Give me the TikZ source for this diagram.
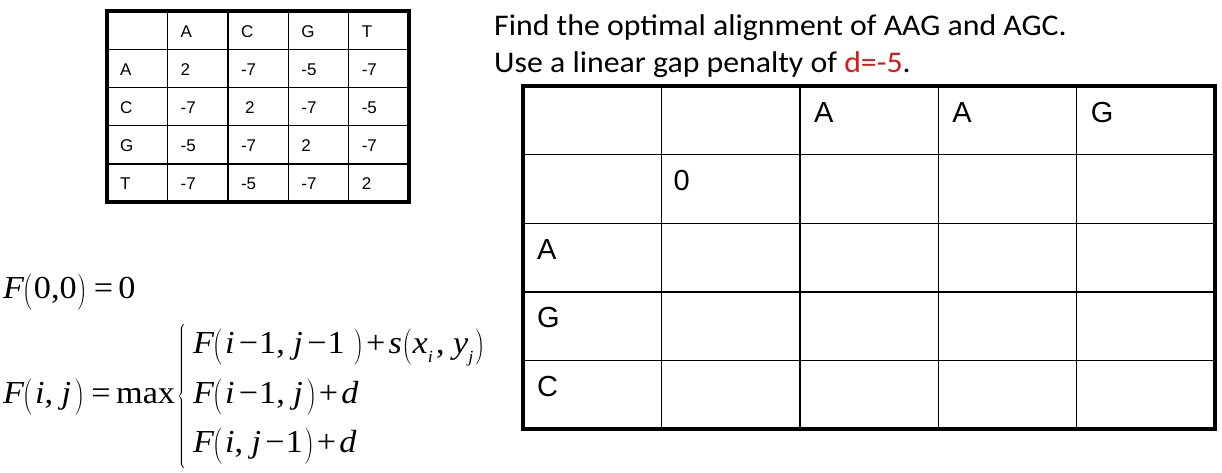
\documentclass[tikz,border=0pt]{standalone}
\usepackage{fontspec}
\setmainfont{Liberation Sans}
\newfontfamily\calib{Carlito}
\newfontfamily\tnr{Liberation Serif}
\definecolor{pptred}{RGB}{218,24,24}
\newcommand\LP{\ensuremath{\left(\vcenter{\hbox{\rule{0pt}{35pt}}}\right.}}
\newcommand\RP{\ensuremath{\left)\vcenter{\hbox{\rule{0pt}{35pt}}}\right.}}
\newcommand\iv[1]{\textit{#1}}
\newcommand\msub[1]{\raisebox{-0.3em}{\fontsize{17}{20}\selectfont\itshape #1}}
\newcommand\mminus{\kern4pt−\kern1pt}
\newcommand\mplus{\kern1pt+\kern3pt}
\newcommand\meq{\kern5pt=\kern5pt}
\newcommand\lead{\kern4pt}
\newcommand\sx[1]{\scalebox{1.07}[1]{#1}}
\tikzset{
  smallcell/.style={anchor=base west, inner sep=0pt, font=\fontsize{17}{20}\selectfont},
  bigcell/.style={anchor=base west, inner sep=0pt, font=\fontsize{29}{34}\selectfont},
  titletext/.style={anchor=base west, inner sep=0pt, font=\calib\fontsize{30}{36}\selectfont},
  formula/.style={anchor=base west, inner sep=0pt, font=\tnr\fontsize{32}{38}\selectfont},
  innerline/.style={line width=1.4pt, black},
  outerline/.style={line width=3.2pt, black},
}
\begin{document}
\begin{tikzpicture}[x=1pt,y=-1pt]
\useasboundingbox (0,0) rectangle (1222,472);
\fill[white] (0,0) rectangle (1222,472);

% ---------- small scoring table ----------
\def\tx{107}\def\tw{60.4}\def\ty{11}\def\th{38.2}
\foreach \i in {1,...,4}{
  \draw[innerline] (\tx+\i*\tw,\ty) -- (\tx+\i*\tw,\ty+5*\th);
  \draw[innerline] (\tx,\ty+\i*\th) -- (\tx+5*\tw,\ty+\i*\th);
}
\draw[outerline] (\tx,\ty) rectangle (\tx+5*\tw,\ty+5*\th);
\foreach \row [count=\r from 0] in {{,A,C,G,T},{A,2,-7,-5,-7},{C,-7,\lead 2,-7,-5},{G,-5,-7,2,-7},{T,-7,-5,-7,2}}{
  \foreach \cell [count=\c from 0] in \row {
    \node[smallcell] (s-\r-\c) at (\tx+\c*\tw+13,\ty+\r*\th+26) {\cell};
  }
}

% ---------- title ----------
\node[titletext] (t1) at (494,35.5) {\scalebox{1.06}[1]{Find the optimal alignment of AAG and AGC.}};
\node[titletext] (t2) at (494,72) {\scalebox{1.06}[1]{Use a linear gap penalty of \textcolor{pptred}{d=-5}.}};

% ---------- DP table ----------
\def\bx{523}\def\bw{138.4}\def\by{86}\def\bh{68.6}
\foreach \i in {1,...,4}{
  \draw[innerline] (\bx+\i*\bw,\by) -- (\bx+\i*\bw,\by+5*\bh);
  \draw[innerline] (\bx,\by+\i*\bh) -- (\bx+5*\bw,\by+\i*\bh);
}
\draw[outerline] (\bx,\by) rectangle (\bx+5*\bw,\by+5*\bh);
\node[bigcell] (b-0-2) at (\bx+2*\bw+14,\by+36) {A};
\node[bigcell] (b-0-3) at (\bx+3*\bw+14,\by+36) {A};
\node[bigcell] (b-0-4) at (\bx+4*\bw+14,\by+36) {G};
\node[bigcell] (b-1-1) at (\bx+1*\bw+12,\by+1*\bh+36) {0};
\node[bigcell] (b-2-0) at (\bx+14,\by+2*\bh+36) {A};
\node[bigcell] (b-3-0) at (\bx+14,\by+3*\bh+36) {G};
\node[bigcell] (b-4-0) at (\bx+14,\by+4*\bh+36) {C};

% ---------- recurrence ----------
\node[formula] (f0) at (3,298) {\sx{\iv{F}\kern-2pt\LP\kern1pt 0,0\kern1pt\RP\meq 0}};
\node[formula] (fij) at (3,403) {\sx{\iv{F}\kern-2pt\LP\kern2pt\iv{i},\kern8pt\iv{j}\kern4pt\RP\meq max}};
\node[formula, anchor=base west] (brace) at (177,403) {$\left\{\vcenter{\hbox{\rule{0pt}{144pt}}}\right.$};
\node[formula] (c1) at (193,353) {\sx{\iv{F}\kern-2pt\LP\kern2pt\iv{i}\mminus 1,\kern8pt\iv{j}\mminus 1\kern9pt\RP\mplus\iv{s}\LP\iv{x}\msub{i}\kern3pt,\kern8pt\iv{y}\msub{j}\kern2pt\RP}};
\node[formula] (c2) at (193,403) {\sx{\iv{F}\kern-2pt\LP\kern2pt\iv{i}\mminus 1,\kern8pt\iv{j}\kern4pt\RP\mplus\iv{d}}};
\node[formula] (c3) at (193,452) {\sx{\iv{F}\kern-2pt\LP\kern2pt\iv{i},\kern8pt\iv{j}\mminus 1\kern2pt\RP\mplus\iv{d}}};
\end{tikzpicture}
\end{document}
